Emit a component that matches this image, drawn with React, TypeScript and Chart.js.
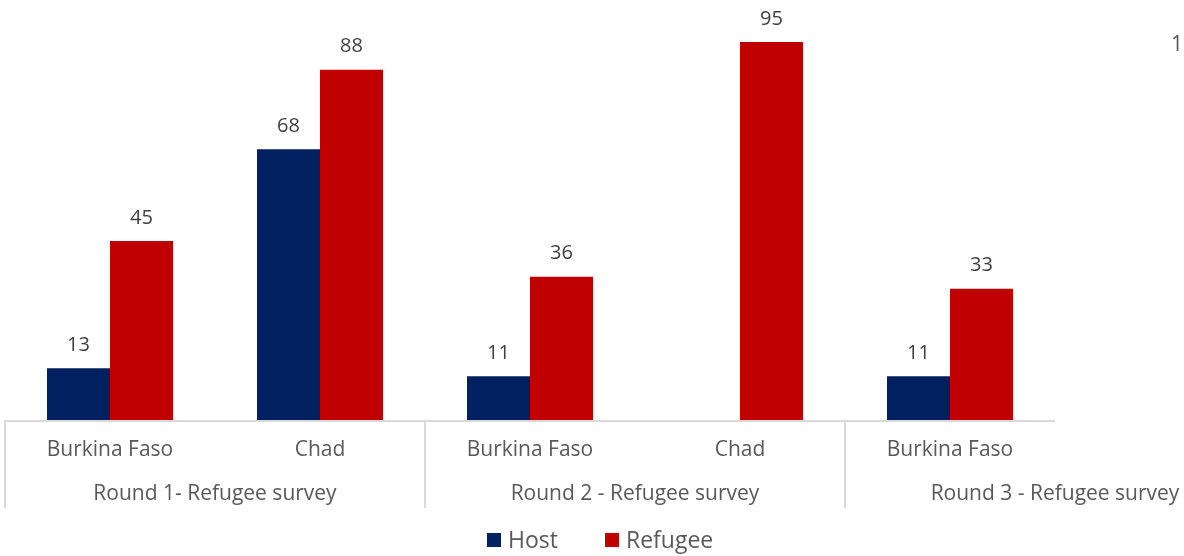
import React, { useEffect, useRef } from "react";
import { Chart, registerables } from "chart.js";

Chart.register(...registerables);

const categories = ["Burkina Faso", "Chad", "Burkina Faso", "Chad", "Burkina Faso"];
const groups = ["Round 1- Refugee survey", "Round 2 - Refugee survey", "Round 3 - Refugee survey"];
const hostValues: (number | null)[] = [13, 68, 11, null, 11];
const refugeeValues: (number | null)[] = [45, 88, 36, 95, 33];
const seriesNames = ["Host", "Refugee"];
const seriesColors = ["#002060", "#C00000"];
const cutOffRightLabel = "1";

const FONT = "'Open Sans', 'Noto Sans', sans-serif";

const overlayPlugin = {
  id: "overlay",
  afterDatasetsDraw(chart: any) {
    const ctx = chart.ctx;
    const area = chart.chartArea;
    const xs = chart.scales.x;
    const catW = (area.right - area.left) / categories.length;
    ctx.save();
    // value labels
    ctx.fillStyle = "#404040";
    ctx.font = `20px ${FONT}`;
    ctx.textAlign = "center";
    ctx.textBaseline = "middle";
    chart.data.datasets.forEach((ds: any, di: number) => {
      const meta = chart.getDatasetMeta(di);
      meta.data.forEach((el: any, i: number) => {
        const v = ds.data[i];
        if (v == null) return;
        ctx.fillText(String(v), el.x, el.y - 23);
      });
    });
    // baseline
    ctx.strokeStyle = "#d9d9d9";
    ctx.lineWidth = 2;
    ctx.beginPath();
    ctx.moveTo(area.left, area.bottom + 1);
    ctx.lineTo(area.right, area.bottom + 1);
    ctx.stroke();
    // group separators
    for (let g = 0; g < groups.length; g++) {
      const x = Math.round(area.left + g * 2 * catW);
      ctx.beginPath();
      ctx.moveTo(x, area.bottom);
      ctx.lineTo(x, area.bottom + 88);
      ctx.stroke();
    }
    // category labels
    ctx.fillStyle = "#595959";
    ctx.font = `21px ${FONT}`;
    categories.forEach((c, i) => {
      ctx.fillText(c, xs.getPixelForValue(i), area.bottom + 30);
    });
    // group labels
    groups.forEach((g, gi) => {
      const cx = area.left + (gi * 2 + 1) * catW;
      ctx.fillText(g, cx, area.bottom + 74);
    });
    // cut-off right label
    ctx.fillText(cutOffRightLabel, 1177, 45);
    // legend
    ctx.font = `23px ${FONT}`;
    ctx.textAlign = "left";
    const legendX = [487, 605];
    seriesNames.forEach((n, i) => {
      ctx.fillStyle = seriesColors[i];
      ctx.fillRect(legendX[i], 533, 14, 14);
      ctx.fillStyle = "#595959";
      ctx.fillText(n, legendX[i] + 21, 541);
    });
    ctx.restore();
  },
};

export default function App() {
  const ref = useRef<HTMLCanvasElement | null>(null);
  useEffect(() => {
    document.body.style.margin = "0";
    const chart = new Chart(ref.current!, {
      type: "bar",
      data: {
        labels: categories,
        datasets: [
          { label: seriesNames[0], data: hostValues, backgroundColor: seriesColors[0] },
          { label: seriesNames[1], data: refugeeValues, backgroundColor: seriesColors[1] },
        ],
      },
      options: {
        animation: false,
        responsive: false,
        maintainAspectRatio: false,
        layout: { padding: { left: 5, right: 129, top: 22, bottom: 136 } },
        plugins: { legend: { display: false }, tooltip: { enabled: false } },
        datasets: { bar: { barPercentage: 1, categoryPercentage: 0.6 } },
        scales: {
          x: { display: false, grid: { display: false } },
          y: { display: false, min: 0, max: 100 },
        },
      },
      plugins: [overlayPlugin],
    });
    return () => chart.destroy();
  }, []);
  return (
    <div style={{ position: "absolute", left: 0, top: 0, width: 1184, height: 556, background: "#fff" }}>
      <canvas ref={ref} width={1184} height={556} style={{ width: 1184, height: 556 }} />
    </div>
  );
}
